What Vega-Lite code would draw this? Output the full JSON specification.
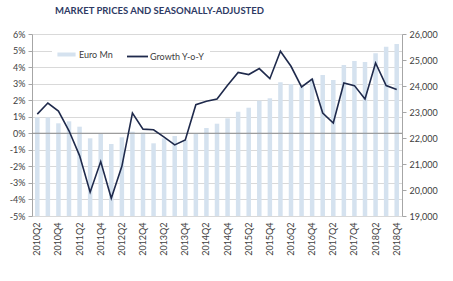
{
  "$schema": "https://vega.github.io/schema/vega-lite/v6.json",
  "width": 370,
  "height": 182,
  "autosize": {"type": "none"},
  "padding": {"left": 32, "top": 34, "right": 51, "bottom": 65},
  "background": "white",
  "title": {
    "text": "MARKET PRICES AND SEASONALLY-ADJUSTED",
    "anchor": "start",
    "frame": "group",
    "dx": 23,
    "offset": 15,
    "font": "Lato",
    "fontSize": 9.5,
    "fontWeight": "bold",
    "color": "#2e3a64"
  },
  "config": {
    "view": {"stroke": null},
    "axis": {
      "labelFont": "Lato",
      "labelFontSize": 9,
      "labelColor": "#404040",
      "labelOverlap": false,
      "domainColor": "#a6a6a6",
      "tickColor": "#a6a6a6",
      "title": null
    },
    "legend": {
      "labelFont": "Lato",
      "labelFontSize": 9,
      "labelColor": "#404040"
    }
  },
  "data": {
    "values": [
      {"quarter": "2010Q2", "euro": 22796, "growth": 0.0116},
      {"quarter": "2010Q3", "euro": 22790, "growth": 0.0183},
      {"quarter": "2010Q4", "euro": 22565, "growth": 0.0134},
      {"quarter": "2011Q1", "euro": 22642, "growth": 0.0015},
      {"quarter": "2011Q2", "euro": 22435, "growth": -0.0135},
      {"quarter": "2011Q3", "euro": 21988, "growth": -0.0356},
      {"quarter": "2011Q4", "euro": 22154, "growth": -0.0171},
      {"quarter": "2012Q1", "euro": 21769, "growth": -0.0393},
      {"quarter": "2012Q2", "euro": 22027, "growth": -0.0200},
      {"quarter": "2012Q3", "euro": 22242, "growth": 0.0122},
      {"quarter": "2012Q4", "euro": 22205, "growth": 0.0025},
      {"quarter": "2013Q1", "euro": 21796, "growth": 0.0021},
      {"quarter": "2013Q2", "euro": 21988, "growth": -0.0023},
      {"quarter": "2013Q3", "euro": 22077, "growth": -0.0070},
      {"quarter": "2013Q4", "euro": 21923, "growth": -0.0040},
      {"quarter": "2014Q1", "euro": 22175, "growth": 0.0173},
      {"quarter": "2014Q2", "euro": 22385, "growth": 0.0193},
      {"quarter": "2014Q3", "euro": 22550, "growth": 0.0207},
      {"quarter": "2014Q4", "euro": 22755, "growth": 0.0290},
      {"quarter": "2015Q1", "euro": 23010, "growth": 0.0368},
      {"quarter": "2015Q2", "euro": 23165, "growth": 0.0355},
      {"quarter": "2015Q3", "euro": 23435, "growth": 0.0391},
      {"quarter": "2015Q4", "euro": 23527, "growth": 0.0330},
      {"quarter": "2016Q1", "euro": 24142, "growth": 0.0496},
      {"quarter": "2016Q2", "euro": 24077, "growth": 0.0405},
      {"quarter": "2016Q3", "euro": 23950, "growth": 0.0280},
      {"quarter": "2016Q4", "euro": 24280, "growth": 0.0328},
      {"quarter": "2017Q1", "euro": 24423, "growth": 0.0122},
      {"quarter": "2017Q2", "euro": 24231, "growth": 0.0062},
      {"quarter": "2017Q3", "euro": 24808, "growth": 0.0304},
      {"quarter": "2017Q4", "euro": 24962, "growth": 0.0288},
      {"quarter": "2018Q1", "euro": 24923, "growth": 0.0207},
      {"quarter": "2018Q2", "euro": 25258, "growth": 0.0425},
      {"quarter": "2018Q3", "euro": 25512, "growth": 0.0288},
      {"quarter": "2018Q4", "euro": 25615, "growth": 0.0264}
    ]
  },
  "layer": [
    {
      "mark": {"type": "bar", "size": 4.5},
      "encoding": {
        "x": {
          "field": "quarter",
          "type": "ordinal",
          "sort": null,
          "scale": {"paddingInner": 0, "paddingOuter": 0},
          "axis": {
            "orient": "bottom",
            "values": ["2010Q2", "2010Q4", "2011Q2", "2011Q4", "2012Q2", "2012Q4", "2013Q2", "2013Q4", "2014Q2", "2014Q4", "2015Q2", "2015Q4", "2016Q2", "2016Q4", "2017Q2", "2017Q4", "2018Q2", "2018Q4"],
            "labelAngle": 270,
            "labelAlign": "right",
            "labelBaseline": "middle",
            "labelPadding": 6,
            "ticks": false,
            "domain": false,
            "grid": false
          }
        },
        "y": {
          "field": "euro",
          "type": "quantitative",
          "scale": {"domain": [19000, 26000], "zero": false, "nice": false},
          "axis": {
            "orient": "right",
            "values": [19000, 20000, 21000, 22000, 23000, 24000, 25000, 26000],
            "tickCount": 8,
            "format": ",.0f",
            "grid": false,
            "tickSize": 4,
            "labelPadding": 3
          }
        },
        "y2": {"datum": 19000},
        "fill": {
          "datum": "Euro Mn",
          "type": "nominal",
          "scale": {"range": ["#d5e2ef"]},
          "legend": {
            "orient": "none",
            "legendX": 20,
            "legendY": 6,
            "title": null,
            "symbolType": "M-1,-0.22H1V0.22H-1Z",
            "symbolSize": 330,
            "symbolStrokeWidth": 0,
            "labelOffset": 3,
            "padding": 5,
            "fillColor": "white"
          }
        }
      }
    },
    {
      "layer": [
        {
          "data": {"values": [{"level": 0}]},
          "mark": {"type": "rule", "color": "#8c8c8c", "strokeWidth": 1},
          "encoding": {
            "y": {"field": "level", "type": "quantitative"}
          }
        },
        {
          "mark": {"type": "line", "strokeWidth": 1.6},
          "encoding": {
            "x": {"field": "quarter", "type": "ordinal", "sort": null},
            "y": {
              "field": "growth",
              "type": "quantitative",
              "scale": {"domain": [-0.05, 0.06], "zero": false, "nice": false},
              "axis": {
                "orient": "left",
                "values": [-0.05, -0.04, -0.03, -0.02, -0.01, 0, 0.01, 0.02, 0.03, 0.04, 0.05, 0.06],
                "tickCount": 12,
                "format": ".0%",
                "labelExpr": "replace(datum.label, '\u2212', '-')",
                "grid": true,
                "gridColor": "#d9d9d9",
                "tickSize": 4,
                "labelPadding": 3
              }
            },
            "stroke": {
              "datum": "Growth Y-o-Y",
              "type": "nominal",
              "scale": {"range": ["#1f2a4c"]},
              "legend": {
                "orient": "none",
                "legendX": 86,
                "legendY": 6,
                "title": null,
                "symbolType": "stroke",
                "symbolSize": 441,
                "symbolStrokeWidth": 1.8,
                "symbolOffset": 3,
                "labelOffset": 1,
                "padding": 5,
                "fillColor": "white"
              }
            }
          }
        }
      ]
    }
  ],
  "resolve": {"scale": {"y": "independent", "fill": "independent", "stroke": "independent"}}
}
